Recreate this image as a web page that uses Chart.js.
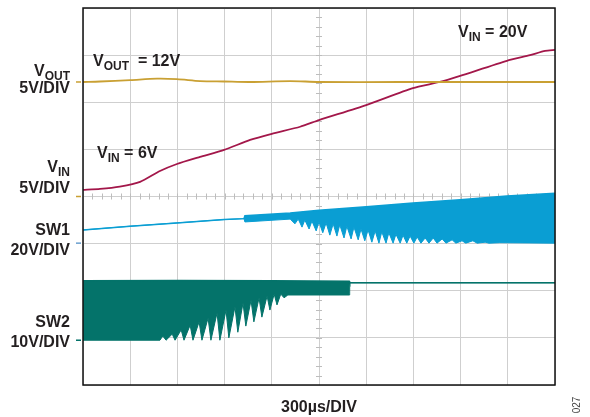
<!DOCTYPE html>
<html>
<head>
<meta charset="utf-8">
<script src="https://cdn.jsdelivr.net/npm/chart.js@4.4.1/dist/chart.umd.min.js"></script>
<style>
  body { margin: 0; background: #fff; }
  canvas { display: block; }
</style>
</head>
<body>
<canvas id="scope" width="590" height="417"></canvas>
<script>
// all levels in screen divisions (x: 300us/div, y: 8 divisions tall)
let voutTime = [0, 0.36, 1.00, 1.57, 1.99, 2.48, 2.99, 3.54, 4.39, 5.00, 6.72, 10];
let voutLevel = [6.43, 6.44, 6.47, 6.50, 6.49, 6.45, 6.44, 6.43, 6.45, 6.43, 6.43, 6.43];

let vinTime = [0, 0.36, 0.78, 1.21, 1.63, 1.99, 2.48, 2.99, 3.54, 4.00, 4.60, 5.00, 6.00, 6.99, 7.56, 7.99, 8.98, 9.47, 9.79, 10];
let vinLevel = [4.14, 4.16, 4.21, 4.31, 4.54, 4.69, 4.84, 4.99, 5.20, 5.33, 5.48, 5.62, 5.94, 6.30, 6.43, 6.56, 6.88, 7.00, 7.09, 7.11];

// SW1 envelope: upper edge and lower edge (with the comb of switching spikes)
let sw1HighTime = [0, 1.00, 1.99, 2.99, 3.41, 3.43, 4.39, 5.00, 6.00, 6.99, 7.99, 8.98, 10];
let sw1High = [3.29, 3.37, 3.44, 3.51, 3.53, 3.59, 3.65, 3.71, 3.78, 3.86, 3.93, 4.01, 4.07];
let sw1LowTime = [0, 1.00, 1.99, 2.99, 3.41, 3.43, 4.39, 4.49, 4.56, 4.64, 4.70, 4.79, 4.85, 4.94, 5.00,
  5.08, 5.15, 5.23, 5.30, 5.38, 5.44, 5.53, 5.59, 5.68, 5.74, 5.83, 5.89, 5.97, 6.04, 6.12, 6.19,
  6.27, 6.33, 6.42, 6.48, 6.57, 6.63, 6.72, 6.78, 6.86, 6.93, 7.01, 7.08, 7.16, 7.25, 7.33, 7.42,
  7.50, 7.61, 7.69, 7.82, 7.90, 8.03, 8.11, 8.26, 8.35, 8.52, 8.60, 8.83, 10];
let sw1Low = [3.29, 3.37, 3.44, 3.51, 3.53, 3.46, 3.52, 3.42, 3.52, 3.35, 3.50, 3.31, 3.48, 3.27, 3.46,
  3.23, 3.44, 3.18, 3.42, 3.16, 3.40, 3.12, 3.37, 3.10, 3.35, 3.08, 3.31, 3.06, 3.29, 3.03, 3.27,
  3.01, 3.25, 3.01, 3.23, 3.01, 3.20, 3.01, 3.18, 3.01, 3.16, 3.01, 3.14, 3.01, 3.12, 3.01, 3.12,
  3.01, 3.10, 3.01, 3.08, 3.01, 3.06, 3.01, 3.06, 3.01, 3.03, 3.01, 3.02, 3.01];

// SW2 envelope
let sw2HighTime = [0, 2.00, 4.00, 5.64, 5.65, 10];
let sw2High = [2.21, 2.22, 2.21, 2.20, 2.17, 2.17];
let sw2LowTime = [0, 1.63, 1.69, 1.76, 1.89, 1.95, 2.08, 2.14, 2.27, 2.33, 2.46, 2.52, 2.65, 2.71, 2.84,
  2.90, 3.03, 3.09, 3.22, 3.28, 3.39, 3.45, 3.56, 3.62, 3.73, 3.79, 3.90, 3.96, 4.05, 4.11, 4.19,
  4.26, 4.34, 5.64, 5.65, 10];
let sw2Low = [0.95, 0.95, 1.04, 0.95, 1.08, 0.95, 1.17, 0.95, 1.27, 0.95, 1.34, 0.95, 1.42, 0.95, 1.53,
  0.95, 1.59, 1.00, 1.66, 1.12, 1.74, 1.25, 1.80, 1.34, 1.85, 1.44, 1.89, 1.59, 1.93, 1.70, 1.93,
  1.85, 1.91, 1.91, 2.17, 2.17];

const GOLD = '#c9a033';
const CRIMSON = '#a3174a';
const BLUE = '#0a9ed3';
const TEAL = '#04736a';

function pts(xs, ys) {
  return xs.map((x, i) => ({ x: x, y: ys[i] }));
}

function subText(c, x, y, main, sub, rest, size) {
  // draws e.g. V + subscript OUT + rest, left aligned at x, baseline y
  c.textAlign = 'left';
  c.font = 'bold ' + size + 'px "Liberation Sans", Arial, sans-serif';
  c.fillText(main, x, y);
  let w = c.measureText(main).width;
  c.font = 'bold ' + Math.round(size * 0.72) + 'px "Liberation Sans", Arial, sans-serif';
  c.fillText(sub, x + w, y + 4);
  w += c.measureText(sub).width;
  if (rest) {
    c.font = 'bold ' + size + 'px "Liberation Sans", Arial, sans-serif';
    c.fillText(rest, x + w, y);
  }
  return w;
}

function subWidth(c, main, sub, size) {
  c.font = 'bold ' + size + 'px "Liberation Sans", Arial, sans-serif';
  let w = c.measureText(main).width;
  c.font = 'bold ' + Math.round(size * 0.72) + 'px "Liberation Sans", Arial, sans-serif';
  return w + c.measureText(sub).width;
}

const scopeDecor = {
  id: 'scopeDecor',
  beforeDatasetsDraw(chart) {
    const c = chart.ctx;
    const xs = chart.scales.x, ys = chart.scales.y;
    const cx = xs.getPixelForValue(5), cy = ys.getPixelForValue(4);
    c.save();
    c.strokeStyle = '#bdbdbd';
    c.lineWidth = 1;
    c.beginPath();
    for (let v = 0.2; v < 8; v += 0.2) {
      const py = Math.round(ys.getPixelForValue(v)) + 0.5;
      c.moveTo(cx - 3, py); c.lineTo(cx + 3, py);
    }
    for (let v = 0.2; v < 10; v += 0.2) {
      const px = Math.round(xs.getPixelForValue(v)) + 0.5;
      c.moveTo(px, cy - 3); c.lineTo(px, cy + 3);
    }
    c.stroke();
    c.restore();
  },
  afterDraw(chart) {
    const c = chart.ctx;
    const a = chart.chartArea;
    const ys = chart.scales.y;
    c.save();
    // frame
    c.strokeStyle = '#111';
    c.lineWidth = 1.5;
    c.strokeRect(a.left, a.top, a.right - a.left, a.bottom - a.top);

    // channel ground markers
    const marks = [[6.43, GOLD], [4.0, GOLD], [3.01, '#6a9fcf'], [0.95, TEAL]];
    marks.forEach(m => {
      const py = ys.getPixelForValue(m[0]);
      c.strokeStyle = m[1];
      c.lineWidth = 1.5;
      c.beginPath();
      c.moveTo(a.left - 7, py); c.lineTo(a.left - 2, py);
      c.stroke();
    });

    c.fillStyle = '#231f20';
    c.textBaseline = 'alphabetic';
    const size = 16;
    const right = 70;
    // left labels
    subText(c, right - subWidth(c, 'V', 'OUT', size), 76, 'V', 'OUT', '', size);
    subText(c, right - subWidth(c, 'V', 'IN', size), 172, 'V', 'IN', '', size);
    c.font = 'bold ' + size + 'px "Liberation Sans", Arial, sans-serif';
    c.textAlign = 'right';
    c.fillText('5V/DIV', right, 93);
    c.fillText('5V/DIV', right, 193);
    c.fillText('SW1', right, 235);
    c.fillText('20V/DIV', right, 255);
    c.fillText('SW2', right, 327);
    c.fillText('10V/DIV', right, 347);

    // in-plot labels
    subText(c, 93, 66, 'V', 'OUT', '  = 12V', size);
    subText(c, 97, 158, 'V', 'IN', ' = 6V', size);
    subText(c, 458, 37, 'V', 'IN', ' = 20V', size);

    // time base
    c.font = 'bold ' + size + 'px "Liberation Sans", Arial, sans-serif';
    c.textAlign = 'center';
    c.fillText('300\u00b5s/DIV', (a.left + a.right) / 2, 412);

    // figure number
    c.translate(580, 405);
    c.rotate(-Math.PI / 2);
    c.font = '10px "Liberation Sans", Arial, sans-serif';
    c.fillStyle = '#444';
    c.fillText('027', 0, 0);
    c.restore();
  }
};

const lineOpts = { pointRadius: 0, borderWidth: 1.5, tension: 0 };

let ctx = document.getElementById('scope');
let scopeChart = new Chart(ctx, {
  type: 'line',
  data: {
    datasets: [
      Object.assign({ label: 'VOUT', data: pts(voutTime, voutLevel), borderColor: GOLD, fill: false }, lineOpts, { tension: 0.3, borderWidth: 1.8 }),
      Object.assign({ label: 'VIN', data: pts(vinTime, vinLevel), borderColor: CRIMSON, fill: false }, lineOpts, { tension: 0.2, borderWidth: 1.8 }),
      Object.assign({ label: 'SW1', data: pts(sw1HighTime, sw1High), borderColor: BLUE, backgroundColor: BLUE, fill: '+1' }, lineOpts),
      Object.assign({ label: 'SW1 low', data: pts(sw1LowTime, sw1Low), borderColor: BLUE, fill: false }, lineOpts, { borderWidth: 1 }),
      Object.assign({ label: 'SW2', data: pts(sw2HighTime, sw2High), borderColor: TEAL, backgroundColor: TEAL, fill: '+1' }, lineOpts),
      Object.assign({ label: 'SW2 low', data: pts(sw2LowTime, sw2Low), borderColor: TEAL, fill: false }, lineOpts, { borderWidth: 1 })
    ]
  },
  options: {
    responsive: false,
    animation: false,
    events: [],
    layout: { padding: { left: 83, right: 35, top: 8, bottom: 32 } },
    plugins: { legend: { display: false }, tooltip: { enabled: false } },
    scales: {
      x: {
        type: 'linear', min: 0, max: 10,
        ticks: { display: false, stepSize: 1 },
        grid: { color: '#cfcfcf', lineWidth: 1, drawTicks: false },
        border: { display: false },
        afterFit: s => { s.height = 0; }
      },
      y: {
        type: 'linear', min: 0, max: 8,
        ticks: { display: false, stepSize: 1 },
        grid: { color: '#cfcfcf', lineWidth: 1, drawTicks: false },
        border: { display: false },
        afterFit: s => { s.width = 0; }
      }
    }
  },
  plugins: [scopeDecor]
});
</script>
</body>
</html>
